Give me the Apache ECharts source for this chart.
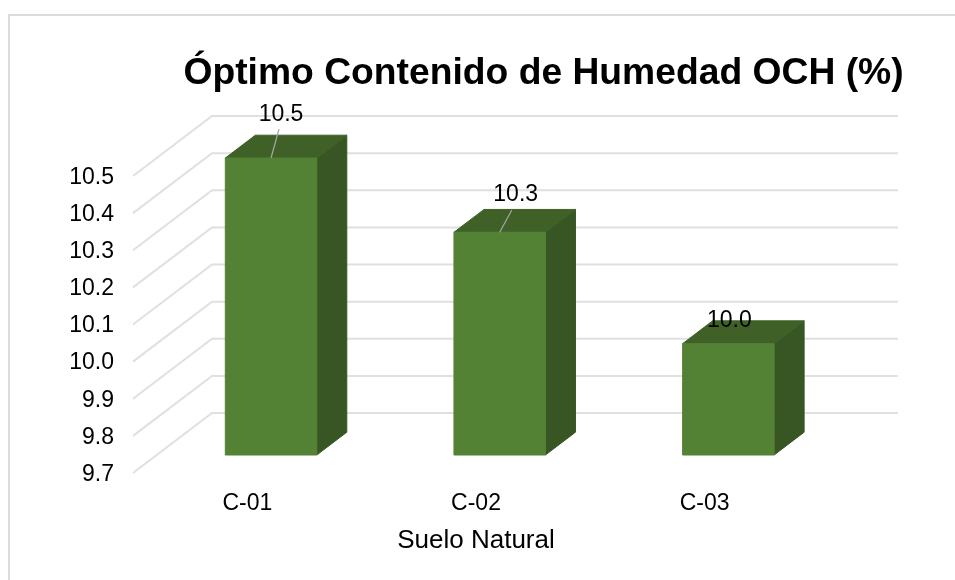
<!DOCTYPE html>
<html>
<head>
<meta charset="utf-8">
<style>html,body{margin:0;padding:0;background:#fff}#c{width:955px;height:580px}</style>
<script src="https://cdn.jsdelivr.net/npm/echarts@6/dist/echarts.min.js"></script>
</head>
<body>
<div id="c"></div>
<script>
const categories = ['C-01', 'C-02', 'C-03'];
const values = [10.5, 10.3, 10.0];
const yTicks = [9.7, 9.8, 9.9, 10.0, 10.1, 10.2, 10.3, 10.4, 10.5];
const titleText = 'Óptimo Contenido de Humedad OCH (%)';
const xName = 'Suelo Natural';

const FONT = '"Liberation Sans", Arial, sans-serif';
const DEPTH = [79, -60];
const BAR_D0 = 0.30, BAR_D1 = 0.68, BAR_W = 0.40;
const labelShift = [[10, -43], [16, -38], [1, -23]];
const leaderEnd = [[8, -29], [12, -22], null];

function wallItem(params, api) {
  const v = api.value(1);
  const cs = params.coordSys;
  const y = api.coord([0, v])[1];
  const x0 = cs.x, x1 = x0 + DEPTH[0], y1 = y + DEPTH[1];
  return {
    type: 'polyline',
    shape: { points: [[x0, y], [x1, y1], [x1 + cs.width, y1]] },
    style: { stroke: '#e0e0e0', lineWidth: 2, fill: null },
    silent: true
  };
}

function barItem(params, api) {
  const i = api.value(0), v = api.value(1);
  const top = api.coord([i, v]), base = api.coord([i, yTicks[0]]);
  const w = api.size([1, 0])[0] * BAR_W;
  const off = d => [DEPTH[0] * d, DEPTH[1] * d];
  const a = off(BAR_D0), b = off(BAR_D1);
  const xl = top[0] - w / 2 + a[0], xr = top[0] + w / 2 + a[0];
  const yt = top[1] + a[1], yb = base[1] + a[1];
  const dx = b[0] - a[0], dy = b[1] - a[1];
  const poly = (pts, fill) => ({
    type: 'polygon', shape: { points: pts },
    style: { fill: fill, stroke: fill, lineWidth: 1 }
  });
  const kids = [
    poly([[xr, yt], [xr + dx, yt + dy], [xr + dx, yb + dy], [xr, yb]], '#375623'),
    poly([[xl, yt], [xl + dx, yt + dy], [xr + dx, yt + dy], [xr, yt]], '#3f6128'),
    poly([[xl, yt], [xr, yt], [xr, yb], [xl, yb]], '#548235')
  ];
  const cx = (xl + xr) / 2;
  const le = leaderEnd[i];
  if (le) {
    kids.push({
      type: 'line',
      shape: { x1: cx, y1: yt, x2: cx + le[0], y2: yt + le[1] },
      style: { stroke: '#a6a6a6', lineWidth: 1.2 }
    });
  }
  const ls = labelShift[i];
  kids.push({
    type: 'text',
    style: {
      text: v.toFixed(1), x: cx + ls[0], y: yt + ls[1],
      align: 'center', verticalAlign: 'middle',
      font: '23px ' + FONT, fill: '#000'
    }
  });
  return { type: 'group', children: kids };
}

const chart = echarts.init(document.getElementById('c'), null, { renderer: 'canvas' });
chart.setOption({
  animation: false,
  backgroundColor: '#fff',
  graphic: [{
    type: 'rect', silent: true, z: -1,
    shape: { x: 9, y: 15, width: 980, height: 600 },
    style: { fill: '#fff', stroke: '#dcdcdc', lineWidth: 2 }
  }],
  title: {
    text: titleText, left: 538.5, top: 50, textAlign: 'center',
    textStyle: { fontFamily: FONT, fontWeight: 'bold', fontSize: 37.25, color: '#000' }
  },
  grid: { left: 133, top: 176, width: 686, height: 297 },
  xAxis: {
    type: 'category', data: categories,
    name: xName, nameLocation: 'middle', nameGap: 55,
    nameTextStyle: { fontFamily: FONT, fontSize: 26, color: '#000' },
    axisLine: { show: false }, axisTick: { show: false },
    axisLabel: { fontFamily: FONT, fontSize: 23, color: '#000', margin: 19 }
  },
  yAxis: {
    type: 'value', min: 9.7, max: 10.5, interval: 0.1,
    axisLine: { show: false }, axisTick: { show: false },
    splitLine: { show: false },
    axisLabel: { fontFamily: FONT, fontSize: 23, color: '#000', margin: 19,
      verticalAlign: 'top', lineHeight: 23, padding: [-10, 0, 0, 0],
      formatter: v => v.toFixed(1) }
  },
  series: [
    { type: 'custom', clip: false, z: 1, renderItem: wallItem,
      encode: { y: 1 }, data: yTicks.map(t => [0, t]) },
    { type: 'custom', clip: false, z: 2, renderItem: barItem,
      encode: { x: 0, y: 1 }, data: values.map((v, i) => [i, v]) }
  ]
});
</script>
</body>
</html>
